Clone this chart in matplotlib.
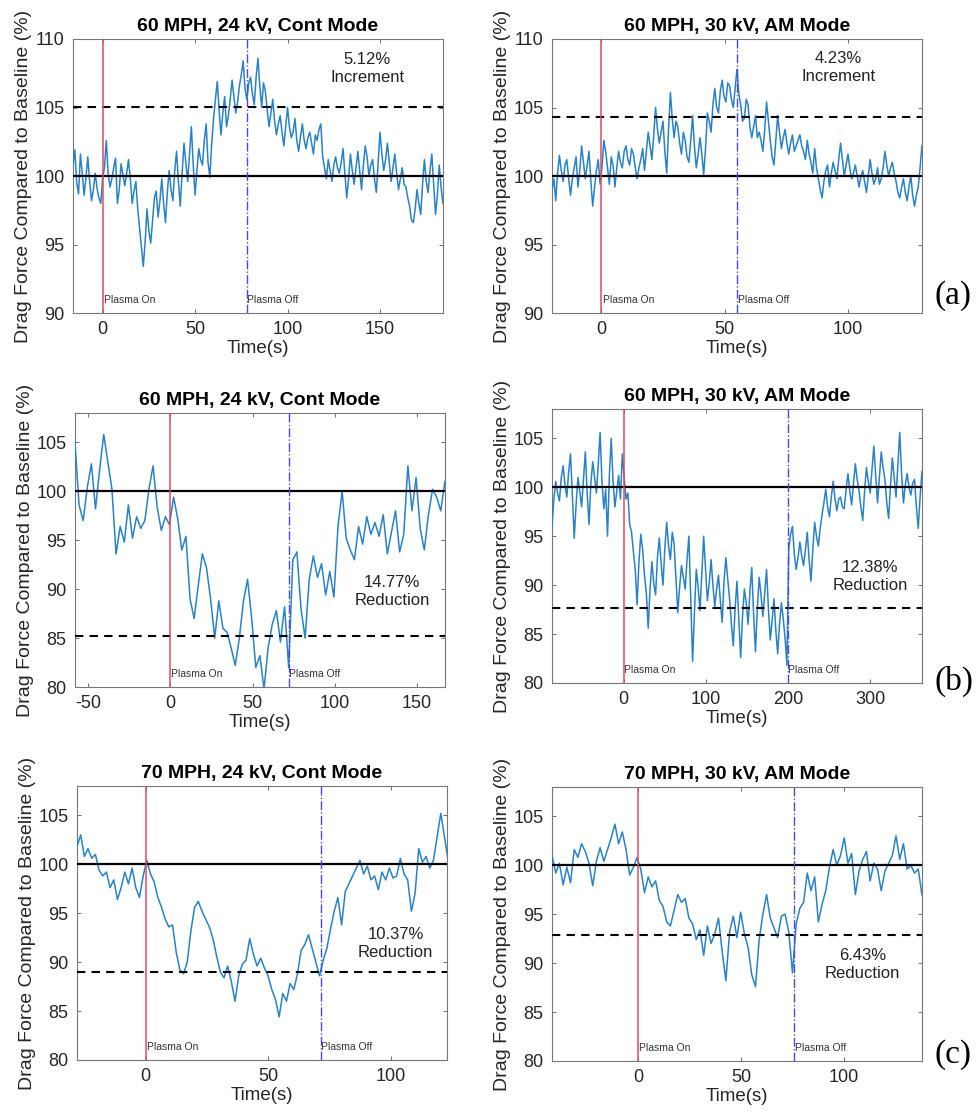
import numpy as np
import matplotlib
matplotlib.use("Agg")
import matplotlib.pyplot as plt

plt.rcParams['font.family'] = ['Liberation Sans', 'DejaVu Sans']
plt.rcParams['axes.unicode_minus'] = False

# ---- data (drag force, % of baseline) ----
# (a) 60 MPH, 24 kV, continuous
a1_start, a1_step = -16, 1.0
a1_drag = [100.8, 101.9, 99.5, 98.7, 101.6, 100.2, 98.6, 99.9, 101.4, 99.6,
           98.2, 99.0, 100.2, 99.1, 98.4, 98.0, 99.8, 100.6, 102.6, 100.2,
           99.2, 99.8, 100.6, 101.3, 98.0, 99.0, 100.9, 100.1, 99.3, 100.2,
           101.2, 99.8, 98.0, 98.9, 99.6, 97.6, 96.2, 94.8, 93.4, 95.2,
           97.6, 96.0, 95.1, 96.7, 98.4, 98.9, 97.0, 98.2, 99.8, 98.0,
           96.6, 98.8, 100.4, 99.0, 98.2, 100.4, 101.8, 99.6, 97.8, 100.2,
           102.4, 101.0, 99.6, 101.6, 103.6, 100.8, 98.6, 100.4, 102.0, 101.2,
           100.8, 102.6, 103.8, 101.0, 99.9, 102.4, 104.2, 105.6, 106.9, 104.8,
           103.0, 104.6, 105.8, 103.6, 104.4, 105.6, 107.0, 105.8, 104.6, 105.4,
           106.6, 107.4, 108.4, 106.4, 105.6, 106.8, 107.2, 106.0, 105.2, 107.2,
           108.6, 106.6, 105.0, 106.8, 106.2, 104.8, 103.6, 104.6, 105.6, 104.0,
           103.0, 103.8, 104.4, 103.2, 102.2, 103.6, 105.0, 103.6, 102.8, 103.2,
           104.2, 102.6, 101.8, 102.9, 103.8, 102.6, 102.0, 102.8, 103.2, 102.4,
           101.6, 103.0, 102.6, 103.4, 103.8, 101.4, 100.6, 99.8, 101.2, 100.4,
           99.6, 100.8, 101.4, 100.6, 100.2, 101.0, 102.0, 100.2, 98.4, 99.8,
           101.6, 100.4, 99.4, 100.6, 101.8, 100.4, 99.0, 100.8, 102.2, 101.4,
           100.0, 100.8, 101.2, 99.8, 98.8, 101.0, 103.2, 101.6, 100.4, 101.2,
           102.4, 101.0, 99.6, 100.6, 101.6, 100.2, 99.0, 99.8, 100.6, 99.4,
           99.2, 98.4, 97.8, 96.8, 96.6, 97.6, 99.0, 98.0, 97.2, 99.4,
           101.2, 99.6, 98.8, 100.4, 101.6, 99.4, 97.2, 98.6, 100.8, 99.2, 98.0]

# (a) 60 MPH, 30 kV, AM
a2_start, a2_step = -20, 0.75
a2_drag = [99.0, 99.8, 98.2, 100.2, 101.5, 100.4, 99.6, 100.8, 101.2, 99.8,
           98.6, 99.8, 100.6, 101.4, 99.2, 100.4, 102.2, 101.0, 99.8, 100.8,
           101.8, 99.6, 97.8, 99.2, 100.4, 101.2, 99.4, 100.6, 102.6, 101.8,
           100.6, 99.4, 101.4, 100.8, 99.2, 100.6, 101.8, 101.0, 100.6, 101.8,
           102.2, 101.2, 100.8, 102.0, 101.6, 100.6, 99.8, 100.6, 101.2, 102.0,
           100.4, 101.8, 103.2, 102.2, 101.2, 103.0, 105.0, 103.4, 102.4, 103.2,
           104.0, 101.8, 100.2, 103.4, 106.1, 104.2, 102.8, 104.0, 103.6, 102.4,
           101.6, 103.2, 102.6, 101.4, 101.0, 102.6, 104.4, 102.2, 100.6, 101.6,
           102.8, 101.6, 100.1, 102.0, 104.6, 104.0, 103.2, 105.2, 106.4, 105.0,
           104.6, 106.2, 107.0, 105.8, 105.4, 106.8, 106.6, 105.6, 105.0, 106.4,
           107.8, 106.0, 105.2, 104.0, 104.2, 105.6, 105.2, 103.6, 102.8, 103.6,
           104.4, 102.8, 103.2, 102.6, 101.8, 103.4, 105.4, 104.0, 102.6, 101.4,
           100.8, 102.6, 104.4, 103.2, 102.0, 102.8, 103.4, 102.4, 101.6, 102.4,
           103.0, 101.8, 102.2, 102.6, 103.0, 102.2, 101.8, 101.2, 102.6, 101.6,
           101.0, 100.2, 102.0, 100.6, 99.8, 99.0, 98.4, 99.6, 100.4, 100.8,
           99.2, 100.2, 101.0, 100.4, 99.8, 101.2, 102.4, 101.2, 100.0, 100.8,
           101.6, 100.6, 99.8, 100.2, 100.8, 100.0, 99.2, 100.0, 100.4, 99.6,
           98.8, 100.0, 101.2, 100.2, 99.4, 99.8, 100.6, 99.4, 99.8, 100.6,
           101.8, 100.8, 100.0, 100.6, 101.0, 100.2, 99.6, 98.8, 98.4, 99.2,
           99.8, 98.8, 98.2, 99.2, 100.0, 98.6, 97.8, 98.6, 99.2, 100.6, 102.2]

# (b) 60 MPH, 24 kV, continuous
b1_start, b1_step = -58, 2.5
b1_drag = [105.0, 98.6, 97.0, 100.4, 102.8, 98.2, 102.2, 105.8, 103.0, 100.2,
           93.6, 96.4, 94.8, 98.6, 95.2, 97.4, 96.2, 97.0, 100.2, 102.6,
           98.4, 96.0, 97.4, 96.6, 99.4, 97.2, 94.0, 95.4, 89.0, 87.0,
           90.4, 93.6, 92.2, 89.0, 85.0, 88.8, 86.0, 85.6, 84.0, 82.2,
           85.0, 88.8, 91.0, 87.0, 82.0, 83.2, 79.8, 84.0, 86.4, 87.8,
           84.6, 88.2, 82.0, 93.0, 93.8, 88.0, 85.0, 91.0, 93.4, 91.2,
           92.6, 89.4, 91.8, 89.2, 96.4, 100.0, 95.2, 94.0, 93.0, 96.4,
           94.6, 97.4, 95.6, 96.8, 95.4, 97.6, 93.6, 95.8, 98.0, 93.8,
           95.6, 102.6, 98.0, 101.4, 96.2, 94.0, 97.6, 100.2, 99.4, 98.0, 101.0]

# (b) 60 MPH, 30 kV, AM
b2_start, b2_step = -87, 2.25
b2_drag = [96.0, 98.8, 100.6, 99.4, 98.6, 101.0, 102.2, 100.2, 99.0, 101.6,
           103.4, 99.2, 94.8, 98.2, 101.0, 99.6, 98.0, 100.8, 103.6, 99.4,
           96.2, 100.4, 102.6, 101.0, 99.4, 102.4, 105.6, 100.6, 97.8, 99.8,
           95.0, 101.2, 105.0, 100.6, 98.0, 99.6, 101.2, 98.8, 103.4, 101.0,
           98.8, 99.4, 96.2, 95.4, 93.4, 91.6, 88.0, 92.4, 95.2, 93.6,
           91.0, 89.2, 85.6, 89.6, 92.4, 90.2, 89.0, 92.8, 94.8, 92.2,
           90.0, 93.8, 96.4, 94.0, 92.6, 95.4, 94.2, 90.8, 87.2, 89.8,
           92.0, 90.8, 89.6, 92.6, 95.0, 88.6, 82.2, 87.2, 91.6, 89.8,
           87.4, 91.2, 95.0, 91.6, 88.4, 90.2, 92.6, 90.0, 87.8, 89.6,
           91.0, 88.4, 86.2, 90.4, 92.8, 90.6, 88.6, 86.0, 83.8, 87.6,
           90.4, 86.4, 82.6, 86.8, 89.6, 88.2, 86.0, 89.4, 91.8, 87.0,
           83.2, 87.6, 90.8, 89.0, 86.8, 89.2, 91.6, 87.6, 84.4, 86.4,
           88.6, 85.4, 83.0, 86.0, 88.2, 86.6, 84.6, 81.8, 93.8, 95.2,
           96.0, 93.2, 91.6, 92.8, 94.4, 93.0, 92.0, 93.6, 95.4, 92.6,
           90.4, 93.6, 96.4, 95.0, 94.0, 95.8, 97.2, 98.4, 99.8, 98.0,
           97.0, 99.0, 100.6, 98.8, 97.6, 98.8, 99.0, 98.0, 97.8, 99.8,
           101.4, 99.6, 98.2, 100.4, 102.4, 100.8, 99.6, 98.0, 96.6, 99.6,
           102.0, 100.6, 99.4, 101.8, 104.2, 101.2, 98.4, 101.0, 103.6, 102.0,
           100.8, 98.4, 96.8, 100.2, 103.0, 101.0, 99.0, 102.4, 105.6, 101.4,
           98.4, 100.2, 101.4, 100.0, 99.2, 100.4, 100.8, 98.0, 95.8, 99.0, 101.6]

# (c) 70 MPH, 24 kV, continuous
c1_start, c1_step = -28, 1.5
c1_drag = [101.8, 103.0, 100.8, 101.6, 100.6, 101.0, 99.4, 98.8, 99.2, 97.6,
           98.4, 96.4, 97.6, 99.2, 98.0, 99.6, 97.6, 96.6, 98.8, 100.4,
           99.0, 98.2, 96.6, 95.6, 94.4, 93.6, 93.8, 91.0, 89.2, 88.8,
           90.0, 93.2, 95.6, 96.2, 95.2, 94.4, 93.6, 92.4, 90.6, 89.0,
           88.4, 89.6, 88.0, 86.0, 88.6, 89.8, 90.2, 92.4, 90.8, 89.6,
           90.4, 89.4, 88.6, 87.2, 86.2, 84.4, 86.8, 86.0, 87.8, 87.2,
           88.8, 91.2, 91.8, 92.8, 91.4, 90.0, 88.6, 90.2, 91.4, 93.4,
           95.2, 96.6, 93.8, 97.2, 98.0, 98.8, 99.6, 100.4, 99.0, 99.8,
           98.4, 98.8, 97.4, 99.2, 98.4, 99.6, 98.6, 98.8, 100.6, 99.0,
           98.4, 95.2, 97.0, 101.6, 100.2, 100.8, 99.6, 100.4, 102.8, 105.2,
           102.8, 100.4]

# (c) 70 MPH, 30 kV, AM
c2_start, c2_step = -42, 1.8
c2_drag = [101.0, 99.2, 100.2, 98.0, 99.8, 98.2, 101.6, 100.8, 102.2, 101.4,
           100.2, 97.9, 100.4, 101.8, 100.4, 101.6, 102.8, 104.2, 102.2, 103.4,
           101.6, 99.0, 99.8, 100.8, 99.6, 97.2, 98.8, 97.8, 98.4, 96.4,
           95.8, 94.2, 93.8, 95.4, 97.0, 96.2, 96.6, 94.6, 94.0, 92.4,
           93.4, 90.8, 93.8, 92.0, 93.0, 94.6, 91.2, 88.2, 93.2, 94.8,
           92.6, 95.2, 93.0, 91.6, 88.8, 87.6, 92.4, 95.0, 97.0, 94.6,
           93.6, 92.6, 94.8, 95.0, 93.2, 89.0, 94.0, 95.6, 96.2, 99.2,
           97.4, 98.8, 94.2, 96.0, 97.4, 99.8, 101.6, 100.0, 101.0, 102.8,
           100.2, 101.2, 97.0, 99.4, 100.6, 101.4, 98.4, 100.2, 99.6, 97.4,
           99.4, 100.2, 101.0, 103.0, 100.6, 102.2, 99.6, 100.0, 99.2, 99.6, 97.0]

titles = ["60 MPH, 24 kV, Cont Mode", "60 MPH, 30 kV, AM Mode",
          "60 MPH, 24 kV, Cont Mode", "60 MPH, 30 kV, AM Mode",
          "70 MPH, 24 kV, Cont Mode", "70 MPH, 30 kV, AM Mode"]
plasma_off = [78, 55, 72, 200, 71.5, 75.7]
mean_level = [105.05, 104.3, 85.2, 87.7, 89.0, 92.9]
change_text = ["5.12%\nIncrement", "4.23%\nIncrement",
               "14.77%\nReduction", "12.38%\nReduction",
               "10.37%\nReduction", "6.43%\nReduction"]
text_pos = [(143, 107.85), (96, 107.9), (135, 89.8),
            (300, 90.9), (102, 91.85), (109, 89.85)]
xlims = [(-16, 184), (-20, 130), (-58, 167), (-87, 363), (-28, 123), (-42, 138)]
ylims = [(90, 110), (90, 110), (80, 108), (80, 108), (80, 108), (80, 108)]
xticks = [[0, 50, 100, 150], [0, 50, 100], [-50, 0, 50, 100, 150],
          [0, 100, 200, 300], [0, 50, 100], [0, 50, 100]]

series = [(a1_start, a1_step, a1_drag), (a2_start, a2_step, a2_drag),
          (b1_start, b1_step, b1_drag), (b2_start, b2_step, b2_drag),
          (c1_start, c1_step, c1_drag), (c2_start, c2_step, c2_drag)]

# axes rectangles in figure fractions
boxes = [[0.0748, 0.719, 0.379, 0.246], [0.5656, 0.719, 0.379, 0.246],
         [0.0768, 0.3833, 0.379, 0.246], [0.5656, 0.3869, 0.379, 0.246],
         [0.0789, 0.0485, 0.379, 0.246], [0.5656, 0.0476, 0.379, 0.246]]

fig = plt.figure(figsize=(9.76, 11.14), dpi=100)

for i in range(6):
    ax = fig.add_axes(boxes[i])
    start, step, vals = series[i]
    t = start + step * np.arange(len(vals))
    ax.plot(t, vals, color='#2a82c6', lw=1.1, zorder=3)
    ax.axhline(100, color='black', lw=1.6, zorder=4)
    ax.axhline(mean_level[i], color='black', lw=1.5, ls=(0, (4, 3)), zorder=4)
    ax.axvline(0, color='#e04a5f', lw=1.1, zorder=5)
    ax.axvline(plasma_off[i], color='#4a4ae0', lw=1.0, ls='-.', zorder=5)

    ymin = ylims[i][0]
    ytxt = ymin + 0.03 * (ylims[i][1] - ymin)
    ax.text(0.5, ytxt, "Plasma On", fontsize=7.5, color='#333333',
            ha='left', va='bottom')
    ax.text(plasma_off[i] + 0.3, ytxt, "Plasma Off", fontsize=7.5,
            color='#333333', ha='left', va='bottom')
    ax.text(text_pos[i][0], text_pos[i][1], change_text[i], fontsize=12,
            ha='center', va='center', linespacing=1.25, color='#222222')

    ax.set_xlim(*xlims[i])
    ax.set_ylim(*ylims[i])
    ax.set_xticks(xticks[i])
    ax.set_yticks(np.arange(ylims[i][0], 106 if ylims[i][1] < 110 else 111, 5))
    ax.tick_params(direction='in', length=3, width=0.6, top=True, right=True,
                   labelsize=13, colors='#555555', labelcolor='#262626', pad=6)
    for s in ax.spines.values():
        s.set_color('#777777')
        s.set_linewidth(0.8)
    ax.set_title(titles[i], fontsize=14, fontweight='bold', pad=6)
    ax.set_xlabel("Time(s)", fontsize=13.5, labelpad=1, color='#262626')
    ax.set_ylabel("Drag Force Compared to Baseline (%)", fontsize=14,
                  labelpad=2, color='#262626')

for lab, yy in zip(["(a)", "(b)", "(c)"], [0.735, 0.388, 0.053]):
    fig.text(0.957, yy, lab, fontsize=24, family=['Liberation Serif', 'DejaVu Serif'],
             ha='left', va='center')

fig.savefig("out.png", dpi=100)
